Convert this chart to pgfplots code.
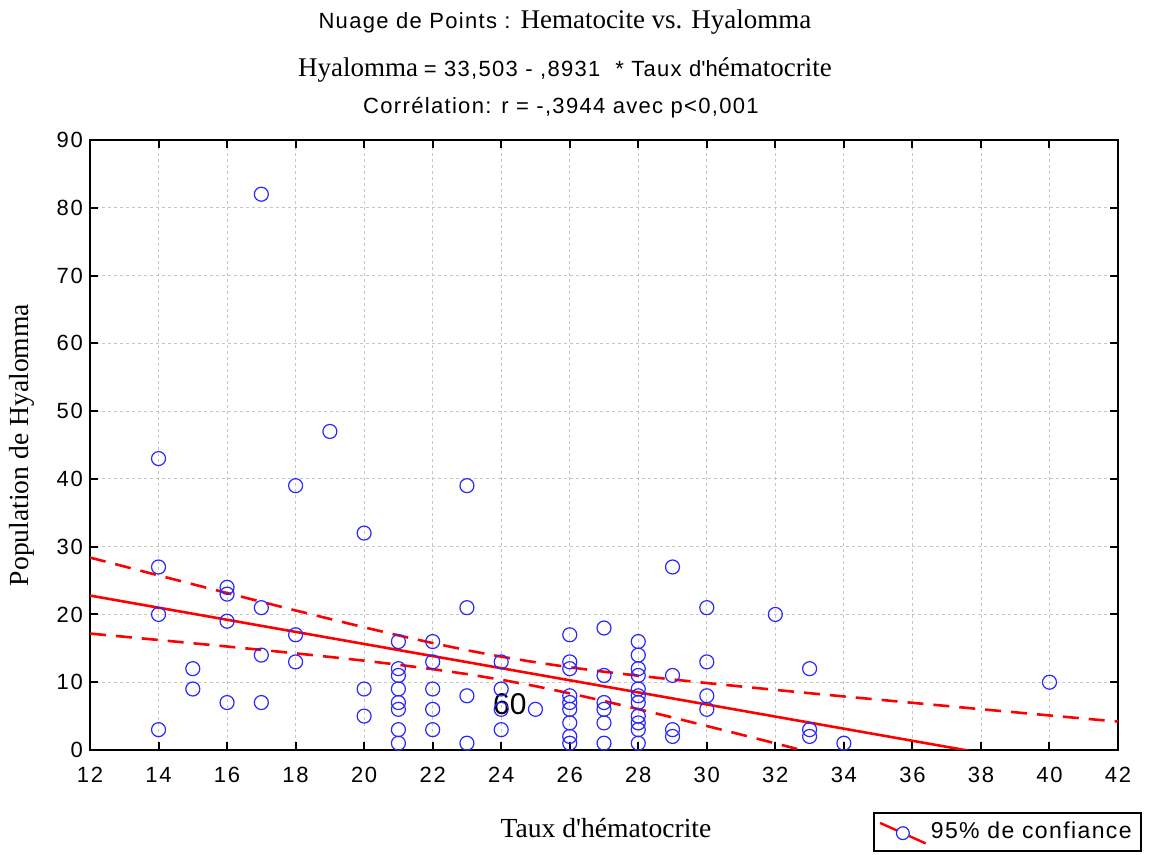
\documentclass[border=0pt]{standalone}
\usepackage{fontspec}
\setmainfont{Liberation Sans}
\newfontfamily\serif{Liberation Serif}
\usepackage{pgfplots}
\pgfplotsset{compat=1.18}

\definecolor{ptblue}{RGB}{40,40,255}

\begin{document}
\begin{tikzpicture}
\path[use as bounding box] (-45pt,-52.5pt) rectangle (530.5pt,375pt);
\begin{axis}[
  at={(0,0)}, anchor=south west,
  scale only axis, width=514pt, height=305pt,
  xmin=12, xmax=42, ymin=0, ymax=90,
  xtick={12,14,...,42}, ytick={0,10,...,90},
  tick align=inside, tick pos=both,
  major tick length=4pt,
  axis line style={line width=1.3pt},
  every tick/.style={black, line width=1pt},
  grid=major,
  major grid style={gray!45, dash pattern=on 1.5pt off 1.5pt, line width=0.4pt},
  /pgf/number format/assume math mode=true,
  ticklabel style={font=\fontsize{11}{11}\selectfont\addfontfeature{LetterSpace=8}},
  xticklabel style={yshift=-5pt},
  legend style={at={(1.023,-0.167)}, anchor=south east, draw=black, line width=1pt,
    font=\fontsize{11.5}{11.5}\selectfont\addfontfeature{LetterSpace=6}, inner sep=2.5pt},
  legend cell align=left,
]

% Hyalomma vs. taux d'hematocrite
\addplot[only marks, mark=o, mark size=3.5pt, ptblue, mark options={line width=0.6pt}, forget plot] coordinates {
  (14,43) (14,27) (14,20) (14,3)
  (15,12) (15,9)
  (16,24) (16,23) (16,19) (16,7)
  (17,82) (17,21) (17,14) (17,7)
  (18,39) (18,17) (18,13)
  (19,47)
  (20,32) (20,9) (20,5)
  (21,16) (21,12) (21,11) (21,9) (21,7) (21,6) (21,3) (21,1)
  (22,16) (22,13) (22,9) (22,6) (22,3)
  (23,39) (23,21) (23,8) (23,1)
  (24,13) (24,9) (24,6) (24,3)
  (25,6)
  (26,17) (26,13) (26,12) (26,8) (26,7) (26,6) (26,4) (26,2) (26,1)
  (27,18) (27,11) (27,7) (27,6) (27,4) (27,1)
  (28,16) (28,14) (28,12) (28,11) (28,9) (28,8) (28,7) (28,5) (28,4) (28,3) (28,1)
  (29,27) (29,11) (29,3) (29,2)
  (30,21) (30,13) (30,8) (30,6)
  (32,20)
  (33,12) (33,3) (33,2)
  (34,1)
  (40,10)
};

% droite de regression
\addplot[red, line width=1.3pt, forget plot] coordinates {(12,22.786) (42,-3.997)};

% bandes de confiance 95%
\addplot[red, line width=1.3pt, dash pattern=on 8pt off 5pt, forget plot] coordinates {
  (12,28.39) (13,27.08) (14,25.76) (15,24.46) (16,23.16) (17,21.87) (18,20.59)
  (19,19.34) (20,18.10) (21,16.91) (22,15.78) (23,14.72) (24,13.77) (25,12.94)
  (26,12.20) (27,11.55) (28,10.96) (29,10.41) (30,9.88) (31,9.37) (32,8.87)
  (33,8.38) (34,7.90) (35,7.43) (36,6.96) (37,6.49) (38,6.02) (39,5.56)
  (40,5.10) (41,4.64) (42,4.19)
};
\addplot[red, line width=1.3pt, dash pattern=on 8pt off 5pt, forget plot] coordinates {
  (12,17.18) (13,16.71) (14,16.23) (15,15.75) (16,15.27) (17,14.77) (18,14.26)
  (19,13.73) (20,13.18) (21,12.58) (22,11.93) (23,11.20) (24,10.37) (25,9.42)
  (26,8.36) (27,7.23) (28,6.03) (29,4.80) (30,3.54) (31,2.27) (32,0.98)
  (33,-0.32) (34,-1.63)
};

\addlegendimage{legend image code/.code={
  \draw[red, line width=1.2pt] (-0.05cm,0.16cm) -- (0.75cm,-0.2cm);
  \draw[ptblue, fill=white, line width=0.6pt] (0.35cm,-0.02cm) circle (3.2pt);}}
\addlegendentry{95\% de confiance}

\node[font=\fontsize{15}{15}\selectfont] at (axis cs:24.25,6.7) {60};
\end{axis}

\node at (237.5pt,364pt) {\fontsize{11}{11}\selectfont\addfontfeature{LetterSpace=6}Nuage de Points : {\serif\fontsize{13.5}{13.5}\selectfont Hematocite vs. Hyalomma}};
\node at (237.5pt,340pt) {{\serif\fontsize{13.5}{13.5}\selectfont Hyalomma} {\fontsize{11}{11}\selectfont\addfontfeature{LetterSpace=6}= 33,503 - ,8931 \ * Taux d\textquotesingle h}{\serif\fontsize{13.5}{13.5}\selectfont ématocrite}};
\node at (235.5pt,321pt) {\fontsize{11}{11}\selectfont\addfontfeature{LetterSpace=6}Corrélation: r = -,3944 avec p<0,001};
\node at (258pt,-39pt) {\serif\fontsize{13.8}{13.8}\selectfont Taux d\textquotesingle hématocrite};
\node[rotate=90] at (-34pt,152.5pt) {\serif\fontsize{13.8}{13.8}\selectfont Population de Hyalomma};
\end{tikzpicture}
\end{document}
